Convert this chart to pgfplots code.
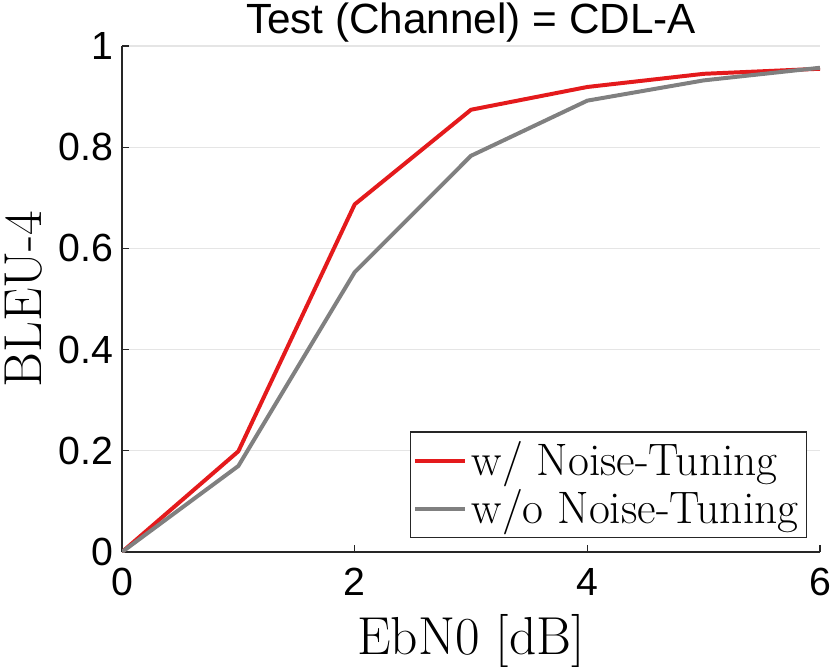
\documentclass[border=0pt]{standalone}
\usepackage{fontspec}
\usepackage{pgfplots}
\pgfplotsset{compat=1.18}
\newfontfamily\hv{Liberation Sans}
\definecolor{myred}{RGB}{228,26,28}
\definecolor{mygray}{RGB}{128,128,128}
\definecolor{axcol}{RGB}{38,38,38}
\begin{document}
\begin{tikzpicture}
\begin{axis}[
  name=ax,
  scale only axis,
  width=280.8pt, height=203.56pt,
  xmin=0, xmax=6, ymin=0, ymax=1,
  xtick={0,2,4,6}, ytick={0,0.2,0.4,0.6,0.8,1},
  axis x line*=bottom, axis y line*=left,
  axis line style={axcol, line width=0.5pt, -},
  tick align=inside, major tick length=2.8pt,
  tick style={axcol, line width=0.5pt},
  ymajorgrids, grid style={gray!20, line width=0.5pt},
  /pgf/number format/assume math mode=true,
  tick label style={font=\hv\fontsize{15.8}{18}\selectfont, text=black},
  xticklabel style={yshift=-3.1pt},
  xlabel={EbN0 [dB]}, ylabel={BLEU-4},
  label style={font=\fontsize{21.5}{25}\selectfont, inner sep=0pt},
  xlabel style={at={(axis description cs:0.5,-0.2034)}, anchor=base},
  ylabel style={at={(axis description cs:-0.1155,0.5)}, anchor=base},
  every axis title shift=0pt,
  title={Test (Channel) = CDL-A},
  title style={font=\hv\fontsize{17}{20}\selectfont, inner sep=0pt,
    at={(axis description cs:0.5,1.0256)}, anchor=base},
  legend style={at={(0.981,0.0277)}, anchor=south east, draw=axcol, line width=0.5pt,
    font=\fontsize{18.3}{21}\selectfont, inner xsep=1pt, inner ysep=2pt, row sep=0pt,
    nodes={inner sep=2pt}},
  legend cell align=left,
  legend image code/.code={\draw[#1, line width=1.6pt] (0pt,0pt) -- (20pt,0pt);},
  every axis plot/.append style={line width=1.6pt},
]
\addplot[myred] coordinates {(0,0) (1,0.199) (2,0.687) (3,0.874) (4,0.919) (5,0.945) (6,0.955)};
\addlegendentry{w/ Noise-Tuning}
\addplot[mygray] coordinates {(0,0) (1,0.170) (2,0.553) (3,0.783) (4,0.892) (5,0.932) (6,0.957)};
\addlegendentry{w/o Noise-Tuning}
\end{axis}
\pgfresetboundingbox
\path ([shift={(-49.08pt,-45.86pt)}]ax.south west) rectangle ([shift={(4.02pt,18.5pt)}]ax.north east);
\end{tikzpicture}
\end{document}
